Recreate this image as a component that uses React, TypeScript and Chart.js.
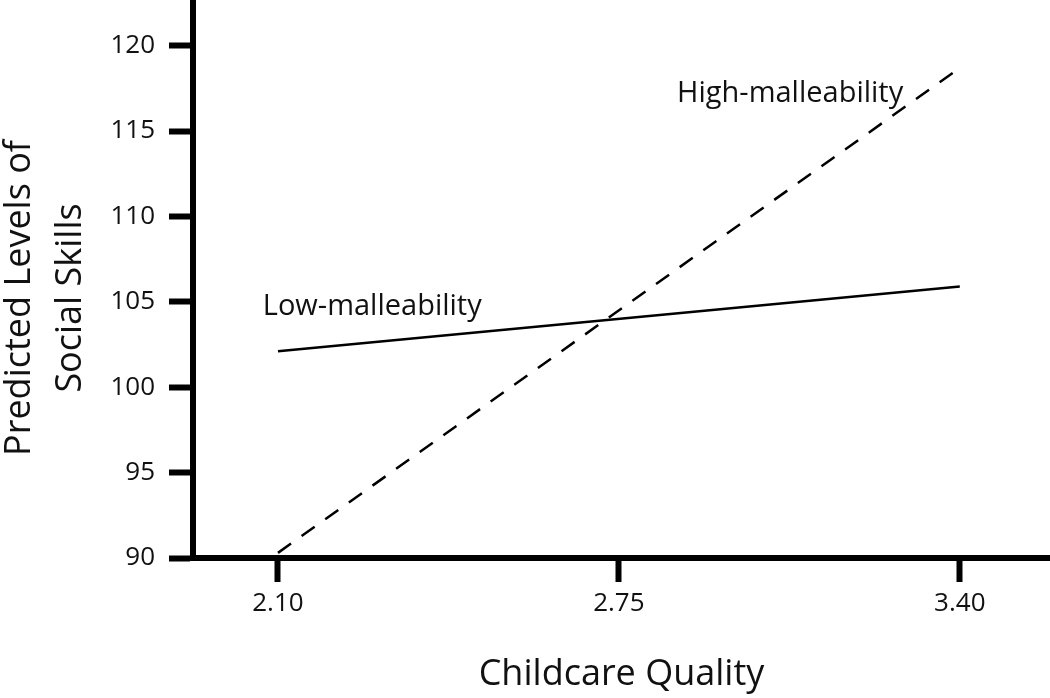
import { useEffect, useRef } from "react";
import { Chart, registerables } from "chart.js";

Chart.register(...registerables);

// ---- data ----
const xTickValues = [2.1, 2.75, 3.4];
const yTickValues = [90, 95, 100, 105, 110, 115, 120];
const xPoints = [2.1, 3.4];
const lowMalleability = [102.1, 105.9];
const highMalleability = [90.3, 118.7];
const seriesNames = ["Low-malleability", "High-malleability"];
const labelX = [2.071, 2.861];
const labelY = [104.24, 116.72];
const xTitle = "Childcare Quality";
const yTitleLines = ["Predicted Levels of", "Social Skills"];

const FONT = "'Open Sans', 'DejaVu Sans', sans-serif";

const annotationPlugin = {
  id: "annotations",
  afterDraw(chart: any) {
    const { ctx, scales } = chart;
    ctx.save();
    ctx.fillStyle = "#111";
    ctx.font = `29px ${FONT}`;
    ctx.textAlign = "left";
    ctx.textBaseline = "alphabetic";
    seriesNames.forEach((name, i) => {
      ctx.fillText(name, scales.x.getPixelForValue(labelX[i]), scales.y.getPixelForValue(labelY[i]));
    });
    // y axis title (two lines, rotated)
    ctx.font = `36px ${FONT}`;
    ctx.textAlign = "center";
    ctx.textBaseline = "middle";
    const cy = 298;
    const xs = [19.5, 70.5];
    yTitleLines.forEach((line, i) => {
      ctx.save();
      ctx.translate(xs[i], cy);
      ctx.rotate(-Math.PI / 2);
      ctx.fillText(line, 0, 0);
      ctx.restore();
    });
    ctx.restore();
  },
};

export default function App() {
  const ref = useRef<HTMLCanvasElement | null>(null);
  useEffect(() => {
    if (!ref.current) return;
    const chart = new Chart(ref.current, {
      type: "line",
      data: {
        datasets: [
          {
            label: seriesNames[0],
            data: xPoints.map((x, i) => ({ x, y: lowMalleability[i] })),
            borderColor: "#000",
            borderWidth: 2.5,
            pointRadius: 0,
            tension: 0,
            fill: false,
          },
          {
            label: seriesNames[1],
            data: xPoints.map((x, i) => ({ x, y: highMalleability[i] })),
            borderColor: "#000",
            borderWidth: 2.5,
            borderDash: [16, 13],
            pointRadius: 0,
            tension: 0,
            fill: false,
          },
        ],
      },
      options: {
        animation: false,
        responsive: true,
        maintainAspectRatio: false,
        layout: { padding: { top: 3, left: 0, right: 0, bottom: 0 } },
        plugins: { legend: { display: false }, tooltip: { enabled: false } },
        scales: {
          x: {
            type: "linear",
            min: 1.938,
            max: 3.572,
            afterBuildTicks: (scale: any) => {
              scale.ticks = xTickValues.map((v) => ({ value: v }));
            },
            afterFit: (scale: any) => {
              scale.height = 140;
              scale.paddingLeft = 0;
              scale.paddingRight = 0;
            },
            ticks: {
              color: "#111",
              font: { family: FONT, size: 26 },
              padding: 6,
              maxRotation: 0,
              autoSkip: false,
              callback: (v: any) => Number(v).toFixed(2),
            },
            grid: {
              drawOnChartArea: false,
              drawTicks: true,
              tickLength: 24,
              tickWidth: 6,
              tickColor: "#000",
            },
            border: { display: true, color: "#000", width: 6 },
            title: {
              display: true,
              text: xTitle,
              color: "#111",
              font: { family: FONT, size: 36 },
              padding: { top: 0, bottom: 2 },
            },
          },
          y: {
            type: "linear",
            min: 90,
            max: 122.5,
            afterBuildTicks: (scale: any) => {
              scale.ticks = yTickValues.map((v) => ({ value: v }));
            },
            afterFit: (scale: any) => {
              scale.width = 193;
              scale.paddingTop = 0;
              scale.paddingBottom = 0;
            },
            ticks: {
              color: "#111",
              font: { family: FONT, size: 26 },
              padding: 14,
              autoSkip: false,
              callback: (v: any) => String(v),
            },
            grid: {
              drawOnChartArea: false,
              drawTicks: true,
              tickLength: 24,
              tickWidth: 6,
              tickColor: "#000",
            },
            border: { display: true, color: "#000", width: 6 },
          },
        },
      },
      plugins: [annotationPlugin],
    });
    return () => chart.destroy();
  }, []);
  return (
    <div style={{ position: "fixed", left: 0, top: 0, width: 1050, height: 698, background: "#fff" }}>
      <canvas ref={ref} />
    </div>
  );
}
